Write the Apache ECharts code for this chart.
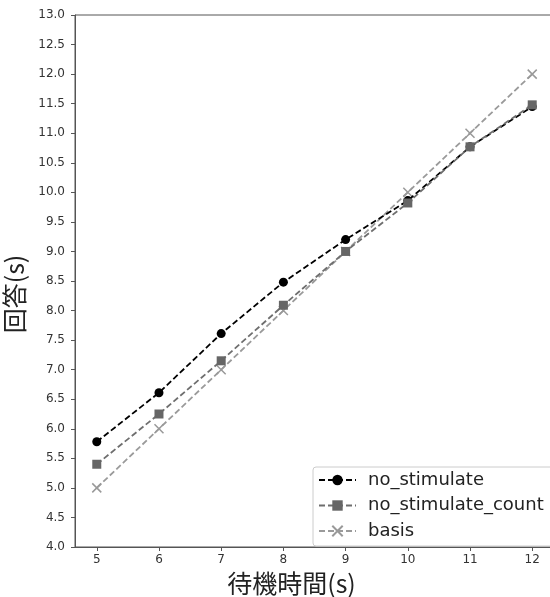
<!DOCTYPE html>
<html>
<head>
<meta charset="utf-8">
<script src="https://cdn.jsdelivr.net/npm/echarts@6/dist/echarts.min.js"></script>
<style>html,body{margin:0;padding:0;background:#fff}#c{width:550px;height:597px}</style>
</head>
<body>
<div id="c"></div>
<script>
const waitTimes = [5, 6, 7, 8, 9, 10, 11, 12];
const noStimulate = [5.78, 6.61, 7.61, 8.48, 9.20, 9.86, 10.77, 11.45];
const noStimulateCount = [5.40, 6.25, 7.15, 8.09, 9.00, 9.82, 10.77, 11.48];
const basis = [5, 6, 7, 8, 9, 10, 11, 12];
const xTicks = [5, 6, 7, 8, 9, 10, 11, 12];
const seriesNames = ['no_stimulate', 'no_stimulate_count', 'basis'];

const pair = (xs, ys) => xs.map((x, i) => [x, ys[i]]);
const font = '"DejaVu Sans", sans-serif';
const cjk = '"Noto Sans CJK JP", "DejaVu Sans", sans-serif';

const chart = echarts.init(document.getElementById('c'), null, {renderer: 'canvas'});
chart.setOption({
  animation: false,
  backgroundColor: '#fff',
  grid: {left: 75, top: 15, width: 479, height: 532, containLabel: false, outerBoundsMode: 'none',
         show: true, borderColor: '#555', borderWidth: 1, backgroundColor: 'transparent'},
  xAxis: {
    type: 'value', min: 4.65, max: 12.35,
    name: '待機時間(s)', nameLocation: 'middle', nameGap: 21,
    nameTextStyle: {fontFamily: cjk, fontSize: 25, color: '#222', padding: [0, 46, 0, 0]},
    axisLine: {show: true, lineStyle: {color: '#555'}},
    axisTick: {show: true, length: 4, lineStyle: {color: '#555'}, customValues: xTicks},
    axisLabel: {fontFamily: font, fontSize: 12, color: '#333', margin: 7, customValues: xTicks},
    splitLine: {show: false}
  },
  yAxis: {
    type: 'value', min: 4, max: 13, interval: 0.5,
    name: '回答(s)', nameLocation: 'middle', nameGap: 45, nameRotate: 90,
    nameTextStyle: {fontFamily: cjk, fontSize: 25, color: '#222', padding: [0, 26, 0, 0]},
    axisLine: {show: true, lineStyle: {color: '#555'}},
    axisTick: {show: true, length: 4, lineStyle: {color: '#555'}},
    axisLabel: {fontFamily: font, fontSize: 12, color: '#333', margin: 10, formatter: v => v.toFixed(1)},
    splitLine: {show: false}
  },
  legend: {
    orient: 'vertical', left: 313, top: 467, width: 250,
    backgroundColor: '#fff', borderColor: '#ccc', borderWidth: 1, borderRadius: 3,
    padding: [4, 40, 6, 5], itemGap: 7.5, itemWidth: 37, itemHeight: 13,
    textStyle: {fontFamily: font, fontSize: 18, color: '#222', padding: [0, 0, 0, 7]},
    data: seriesNames
  },
  series: [
    {
      name: seriesNames[0], type: 'line', data: pair(waitTimes, noStimulate),
      symbol: 'circle', symbolSize: 9,
      lineStyle: {color: '#000', width: 1.8, type: [6, 3]},
      itemStyle: {color: '#000'}, z: 4
    },
    {
      name: seriesNames[1], type: 'line', data: pair(waitTimes, noStimulateCount),
      symbol: 'rect', symbolSize: 9,
      lineStyle: {color: '#6e6e6e', width: 1.8, type: [6, 3]},
      itemStyle: {color: '#666'}, z: 5
    },
    {
      name: seriesNames[2], type: 'line', data: pair(waitTimes, basis),
      symbol: 'path://M0,0L10,10M10,0L0,10', symbolSize: 9,
      lineStyle: {color: '#9a9a9a', width: 1.8, type: [6, 3]},
      itemStyle: {color: 'rgba(0,0,0,0)', borderColor: '#999', borderWidth: 1.5}, z: 3
    }
  ]
});
</script>
</body>
</html>
